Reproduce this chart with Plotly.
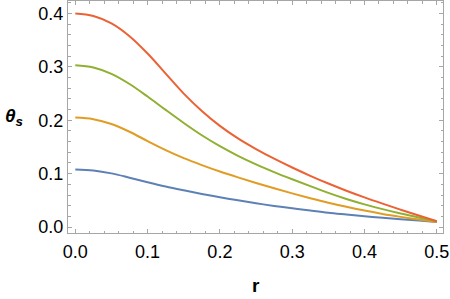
import plotly.graph_objects as go

r = [0, 0.025, 0.05, 0.075, 0.1, 0.125, 0.15, 0.175, 0.2, 0.225, 0.25, 0.275, 0.3,
     0.325, 0.35, 0.375, 0.4, 0.425, 0.45, 0.475, 0.5]
theta_blue   = [0.108, 0.106, 0.1005, 0.0925, 0.084, 0.076, 0.0688, 0.062, 0.0558, 0.050, 0.0445,
                0.0395, 0.035, 0.0308, 0.0268, 0.0235, 0.0203, 0.0173, 0.0145, 0.012, 0.0095]
theta_orange = [0.205, 0.202, 0.193, 0.1785, 0.161, 0.144, 0.129, 0.116, 0.104, 0.093, 0.0825,
                0.0725, 0.063, 0.054, 0.0455, 0.0378, 0.0308, 0.0245, 0.019, 0.014, 0.0095]
theta_green  = [0.303, 0.299, 0.287, 0.268, 0.2445, 0.2195, 0.195, 0.172, 0.1515, 0.1335, 0.1175,
                0.103, 0.0895, 0.0765, 0.064, 0.0525, 0.0425, 0.0335, 0.0253, 0.0178, 0.0108]
theta_red    = [0.400, 0.3955, 0.3815, 0.3575, 0.325, 0.2875, 0.250, 0.2175, 0.1895, 0.166, 0.146,
                0.128, 0.1115, 0.096, 0.0815, 0.068, 0.0555, 0.0438, 0.0325, 0.0215, 0.0108]

x_ticks = [0.0, 0.1, 0.2, 0.3, 0.4, 0.5]
y_ticks = [0.0, 0.1, 0.2, 0.3, 0.4]

series = [
    (theta_blue, "#5E81B5"),
    (theta_orange, "#E19C24"),
    (theta_green, "#8FB032"),
    (theta_red, "#EB6235"),
]

fig = go.Figure()
for ys, col in series:
    fig.add_trace(go.Scatter(x=r, y=ys, mode="lines",
                             line=dict(color=col, width=2, shape="spline", smoothing=1.0),
                             showlegend=False, hoverinfo="skip"))

FONT = "Liberation Sans, Arial, sans-serif"
axis_common = dict(
    showgrid=False, zeroline=False, automargin=False,
    showline=True, linecolor="#A6A6A6", linewidth=1, mirror="allticks",
    ticks="inside", ticklen=4, tickcolor="#A6A6A6", tickwidth=1,
    tickfont=dict(family=FONT, size=18, color="black"),
    tickformat=".1f", ticklabeloverflow="allow",
    minor=dict(ticks="inside", ticklen=2.5, tickcolor="#A6A6A6", dtick=0.02, showgrid=False),
)

fig.update_xaxes(range=[-0.0101, 0.5086], tickvals=x_ticks, ticklabelstandoff=2, **axis_common)
fig.update_yaxes(range=[-0.0112, 0.4235], tickvals=y_ticks, ticklabelstandoff=0, **axis_common)

fig.update_layout(
    width=450, height=299,
    margin=dict(l=68, r=7, t=1, b=66),
    paper_bgcolor="white", plot_bgcolor="white",
    annotations=[
        dict(text="<b>r</b>", xref="paper", yref="paper", x=0.5, y=-0.225,
             xanchor="center", yanchor="middle", showarrow=False,
             font=dict(family=FONT, size=19, color="black")),
        dict(text="<b><i>θ<sub>s</sub></i></b>", xref="paper", yref="paper", x=-0.145, y=0.5,
             xanchor="center", yanchor="middle", showarrow=False,
             font=dict(family=FONT, size=19, color="black")),
    ],
)

fig.write_html("out.html", config={"displayModeBar": False},
               post_script="document.body.style.margin='0';document.body.style.overflow='hidden';")
